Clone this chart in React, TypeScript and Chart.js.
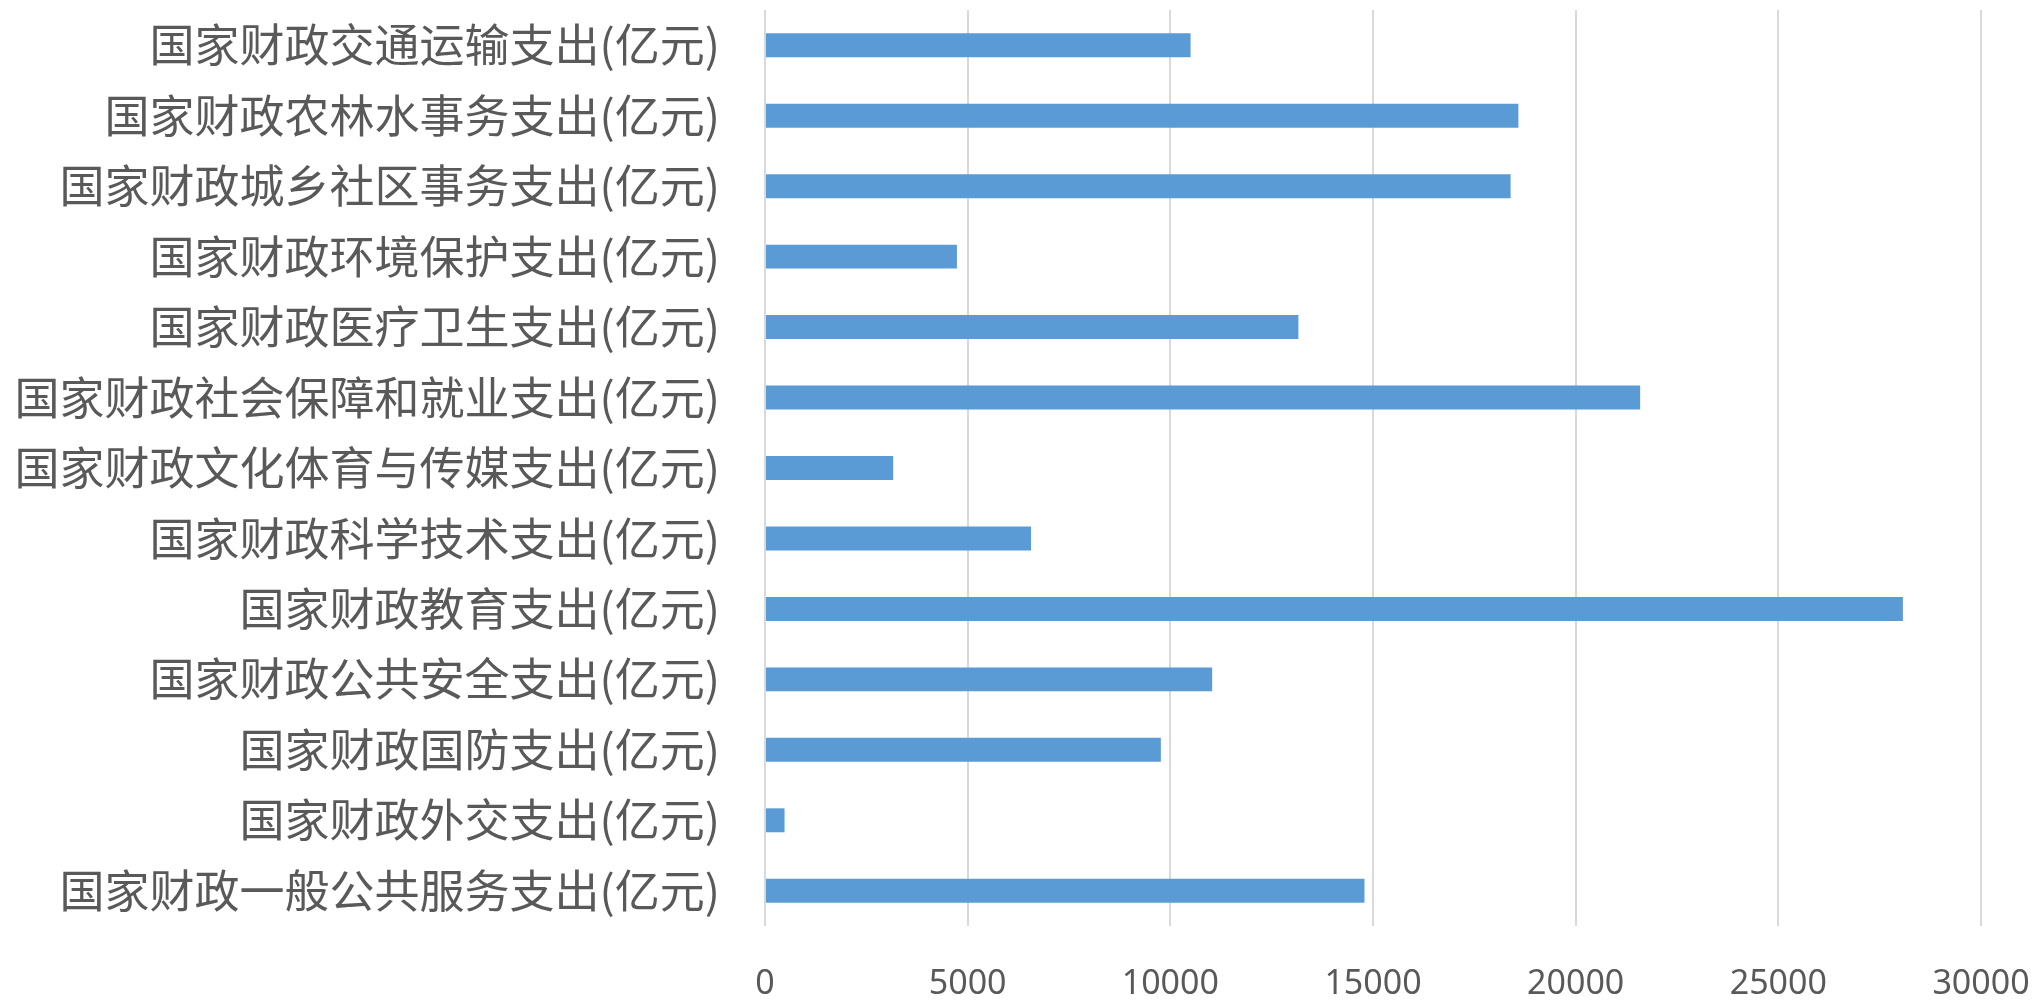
import React, { useEffect, useRef } from "react";
import { Chart, registerables } from "chart.js";

Chart.register(...registerables);

const categories: string[] = [
  "国家财政交通运输支出(亿元)",
  "国家财政农林水事务支出(亿元)",
  "国家财政城乡社区事务支出(亿元)",
  "国家财政环境保护支出(亿元)",
  "国家财政医疗卫生支出(亿元)",
  "国家财政社会保障和就业支出(亿元)",
  "国家财政文化体育与传媒支出(亿元)",
  "国家财政科学技术支出(亿元)",
  "国家财政教育支出(亿元)",
  "国家财政公共安全支出(亿元)",
  "国家财政国防支出(亿元)",
  "国家财政外交支出(亿元)",
  "国家财政一般公共服务支出(亿元)",
];

const values: number[] = [
  10499, 18587, 18395, 4735, 13159, 21591, 3163, 6564, 28073, 11032, 9766, 482, 14790,
];

const xTicks: number[] = [0, 5000, 10000, 15000, 20000, 25000, 30000];

export default function App() {
  const ref = useRef<HTMLCanvasElement | null>(null);

  useEffect(() => {
    if (!ref.current) return;
    const chart = new Chart(ref.current, {
      type: "bar",
      data: {
        labels: categories,
        datasets: [
          {
            data: values,
            backgroundColor: "#5B9BD5",
            borderWidth: 0,
            categoryPercentage: 1,
            barPercentage: 0.34,
          },
        ],
      },
      options: {
        indexAxis: "y",
        animation: false,
        responsive: false,
        maintainAspectRatio: false,
        layout: { padding: { top: 2, right: 55, left: 0, bottom: 0 } },
        plugins: { legend: { display: false }, tooltip: { enabled: false } },
        scales: {
          x: {
            min: xTicks[0],
            max: xTicks[xTicks.length - 1],
            afterBuildTicks: (axis: any) => {
              axis.ticks = xTicks.map((v) => ({ value: v }));
            },
            afterFit: (axis: any) => {
              axis.height = 72;
              axis.paddingLeft = 0;
              axis.paddingRight = 0;
            },
            grid: { color: "#D9D9D9", lineWidth: 2, drawTicks: false },
            border: { display: false },
            ticks: {
              padding: 38,
              color: "#595959",
              callback: (v: any) => String(v),
              font: { family: "'Noto Sans', sans-serif", size: 34 },
            },
          },
          y: {
            afterFit: (axis: any) => {
              axis.width = 757;
              axis.paddingTop = 0;
              axis.paddingBottom = 0;
            },
            grid: { display: false, drawTicks: false },
            border: { display: false },
            ticks: {
              padding: 45,
              color: "#595959",
              font: { family: "'Noto Sans CJK SC', sans-serif", size: 45 },
            },
          },
        },
      },
    });
    return () => chart.destroy();
  }, []);

  return (
    <div style={{ width: 2028, height: 990 }}>
      <canvas ref={ref} width={2028} height={990} style={{ width: 2028, height: 990, display: "block" }} />
    </div>
  );
}
